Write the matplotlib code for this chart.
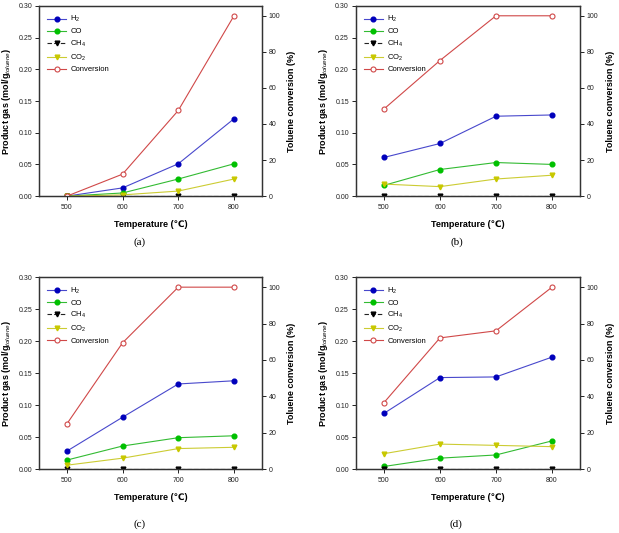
import matplotlib
matplotlib.use("Agg")
import matplotlib.pyplot as plt

plt.rcParams['font.family'] = ['Liberation Sans', 'DejaVu Sans']
plt.rcParams['mathtext.fontset'] = 'custom'
plt.rcParams['mathtext.rm'] = 'Liberation Sans'
plt.rcParams['mathtext.it'] = 'Liberation Sans:italic'
plt.rcParams['mathtext.bf'] = 'Liberation Sans:bold'

temps = [500, 600, 700, 800]

h2_a = [0.000, 0.013, 0.051, 0.122]
co_a = [0.000, 0.005, 0.027, 0.051]
ch4_a = [0, 0, 0, 0]
co2_a = [0.000, 0.002, 0.008, 0.027]
conv_a = [0, 12.2, 47.5, 100]

h2_b = [0.061, 0.083, 0.126, 0.128]
co_b = [0.017, 0.042, 0.053, 0.050]
ch4_b = [0, 0, 0, 0]
co2_b = [0.019, 0.015, 0.027, 0.033]
conv_b = [48.3, 75.2, 100, 100]

h2_c = [0.028, 0.081, 0.133, 0.138]
co_c = [0.014, 0.036, 0.049, 0.052]
ch4_c = [0, 0, 0, 0]
co2_c = [0.006, 0.017, 0.032, 0.034]
conv_c = [24.8, 69.4, 100, 100]

h2_d = [0.087, 0.143, 0.144, 0.175]
co_d = [0.004, 0.017, 0.022, 0.044]
ch4_d = [0, 0, 0, 0]
co2_d = [0.024, 0.039, 0.037, 0.035]
conv_d = [36.5, 72.1, 76.0, 100]

panels = [
    ("(a)", h2_a, co_a, ch4_a, co2_a, conv_a, [0.063, 0.632, 0.360, 0.357], 0.226, 0.546),
    ("(b)", h2_b, co_b, ch4_b, co2_b, conv_b, [0.575, 0.632, 0.362, 0.357], 0.738, 0.546),
    ("(c)", h2_c, co_c, ch4_c, co2_c, conv_c, [0.063, 0.120, 0.360, 0.360], 0.226, 0.016),
    ("(d)", h2_d, co_d, ch4_d, co2_d, conv_d, [0.575, 0.120, 0.362, 0.360], 0.736, 0.016),
]

fig = plt.figure(figsize=(6.19, 5.33), dpi=100)

for tag, h2, co, ch4, co2, conv, pos, tx, ty in panels:
    ax = fig.add_axes(pos)
    ax2 = ax.twinx()
    ax.plot(temps, h2, color='#4848cc', lw=0.8, marker='o', ms=3.4,
            mfc='#0000bb', mec='#0000bb', label='H$_2$')
    ax.plot(temps, co, color='#33bb33', lw=0.8, marker='o', ms=3.4,
            mfc='#00c000', mec='#00c000', label='CO')
    ax.plot(temps, ch4, color='#222222', lw=0.8, ls='--', dashes=(4, 2),
            marker='v', ms=3.4, mfc='black', mec='black', label='CH$_4$')
    ax.plot(temps, co2, color='#cccc33', lw=0.8, marker='v', ms=3.4,
            mfc='#c8c800', mec='#c8c800', label='CO$_2$')
    ax2.plot(temps, conv, color='#d04848', lw=0.8, marker='o', ms=3.6,
             mfc='white', mec='#d04848', mew=0.8, label='Conversion')

    ax.set_xlim(450, 850)
    ax.set_ylim(0, 0.30)
    ax2.set_ylim(0, 105.5)
    ax.set_xticks(temps)
    ax.set_yticks([0, 0.05, 0.10, 0.15, 0.20, 0.25, 0.30])
    ax.set_yticklabels(['0.00', '0.05', '0.10', '0.15', '0.20', '0.25', '0.30'])
    ax2.set_yticks([0, 20, 40, 60, 80, 100])
    for a in (ax, ax2):
        a.tick_params(direction='out', length=3, width=0.7, labelsize=5,
                      colors='#222222', pad=2)
        for s in a.spines.values():
            s.set_linewidth(0.9)
            s.set_color('#333333')
    ax.tick_params(axis='x', pad=3)

    ax.set_xlabel('Temperature (\u2103)', fontsize=6.5, fontweight='bold', labelpad=6)
    ax.set_ylabel('Product gas (mol/g$_{toluene}$)', fontsize=6.5, fontweight='bold')
    ax2.set_ylabel('Toluene conversion (%)', fontsize=6.5, fontweight='bold')
    ax.yaxis.set_label_coords(-0.115, 0.5)
    ax2.yaxis.set_label_coords(1.115, 0.5)

    handles = ax.get_lines() + ax2.get_lines()
    ax2.legend(handles, [h.get_label() for h in handles], loc='upper left',
               bbox_to_anchor=(0, 1), frameon=False, fontsize=5.5,
               handlelength=2.4, labelspacing=0.45, borderaxespad=0.7,
               handletextpad=0.6)

    fig.text(tx, ty, tag, fontsize=8, family='Liberation Serif', ha='center', va='center')

fig.savefig('out.png', dpi=100)
